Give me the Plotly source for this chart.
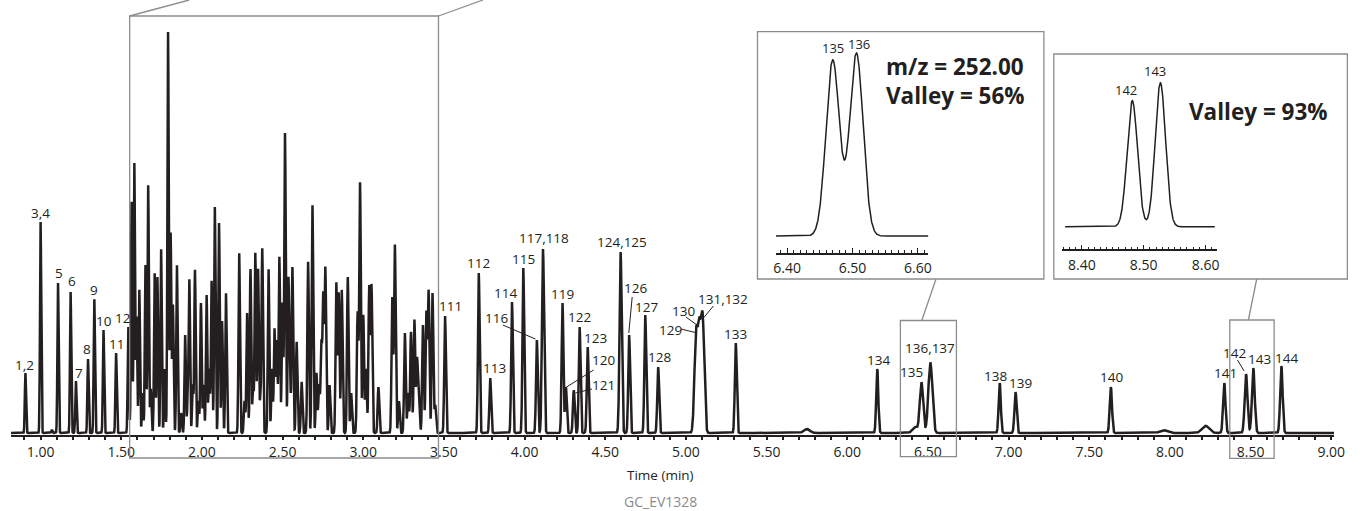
import numpy as np
import plotly.graph_objects as go

W, H = 1365, 511

# ------------------------------------------------------------------ data
# Main chromatogram: retention time (min) and apex height (% of tallest peak)
EARLY_RT = [0.906, 1.000, 1.070, 1.108, 1.186, 1.219, 1.294, 1.333, 1.390, 1.468, 1.544]
EARLY_H = [15.0, 52.75, 0.8, 37.5, 35.25, 13.0, 18.5, 33.5, 25.75, 20.0, 26.5]

DENSE_RT = [1.564, 1.581, 1.595, 1.612, 1.632, 1.650, 1.667, 1.683, 1.707, 1.724,
            1.747, 1.769, 1.790, 1.806, 1.820, 1.845, 1.871, 1.896, 1.912, 1.922,
            1.943, 1.957, 1.978, 1.994, 2.010, 2.029, 2.045, 2.060, 2.080, 2.106,
            2.125, 2.149, 2.231, 2.264, 2.280, 2.301, 2.317, 2.331, 2.348, 2.362,
            2.374, 2.413, 2.434, 2.450, 2.464, 2.480, 2.499, 2.515, 2.536, 2.546,
            2.561, 2.587, 2.618, 2.658, 2.685, 2.710, 2.726, 2.740, 2.752, 2.765,
            2.791, 2.833, 2.848, 2.867, 2.904, 2.925, 2.965, 2.980, 3.000, 3.017,
            3.037, 3.051, 3.094, 3.180, 3.196, 3.221, 3.258, 3.278, 3.296, 3.317,
            3.333, 3.344, 3.370, 3.391, 3.405, 3.429, 3.446]
DENSE_H = [57.8, 67.5, 29.0, 35.8, 10.0, 42.0, 62.0, 11.0, 40.0, 39.0,
           46.0, 16.0, 100.25, 50.0, 32.0, 42.0, 5.0, 24.5, 8.0, 38.0,
           12.0, 40.8, 8.0, 32.5, 12.0, 34.5, 16.0, 38.0, 56.5, 52.5,
           28.0, 35.0, 45.0, 8.0, 30.0, 41.0, 11.0, 45.0, 41.0, 8.0,
           46.0, 41.0, 16.0, 26.0, 23.0, 44.0, 32.5, 75.0, 38.0, 12.0,
           41.5, 22.8, 12.8, 42.8, 57.0, 15.0, 12.0, 22.0, 34.0, 41.0,
           12.0, 37.5, 35.0, 35.8, 39.0, 10.0, 30.0, 62.5, 29.5, 16.0,
           36.5, 36.8, 11.5, 33.8, 47.0, 8.0, 25.0, 10.0, 25.3, 28.3,
           18.0, 10.8, 27.0, 30.0, 35.3, 35.0, 7.0]

LATE_RT = [3.507, 3.716, 3.787, 3.922, 3.992, 4.076, 4.114, 4.235, 4.256, 4.305,
           4.341, 4.391, 4.595, 4.648, 4.748, 4.828, 5.062, 5.083, 5.104, 5.309,
           5.750, 6.186, 6.420, 6.460, 6.515, 6.945, 7.043, 7.634, 7.959, 8.221,
           8.337, 8.472, 8.517, 8.691]
LATE_H = [29.25, 40.0, 13.75, 32.75, 41.25, 23.25, 46.0, 32.5, 11.5, 10.75,
          26.5, 21.5, 45.25, 24.5, 29.5, 16.5, 23.5, 24.0, 27.5, 22.5,
          1.0, 16.0, 1.5, 12.6, 17.6, 12.5, 10.25, 11.5, 0.7, 1.8,
          12.5, 14.75, 16.25, 16.75]
LATE_WIDTH = [1, 1, 1, 1, 1, 1, 1.2, 1, 1, 1,
              1, 1, 1.2, 1, 1, 1, 1.7, 1.7, 1.7, 1,
              3, 1, 2.5, 1.6, 1.9, 1, 1, 1, 3, 3,
              1, 1.15, 1.15, 1]
BASELINE = 0.5

# Inset 1 (m/z 252.00): peaks 135 / 136
INSET1_RT = [6.4697, 6.506]
INSET1_H = [96.3, 100.0]
INSET1_RANGE = [6.3829, 6.6162]
# Inset 2: peaks 142 / 143
INSET2_RT = [8.4816, 8.527]
INSET2_H = [87.5, 100.0]
INSET2_RANGE = [8.373, 8.615]

# peak labels: text, time, height of label centre
LABELS = [
    ("1,2", 0.900, 17.5), ("3,4", 1.002, 55.4), ("5", 1.115, 40.6), ("6", 1.196, 38.6),
    ("7", 1.237, 15.6), ("8", 1.288, 21.4), ("9", 1.333, 36.25), ("10", 1.394, 28.6),
    ("11", 1.468, 22.75), ("12", 1.507, 29.2),
    ("111", 3.540, 32.25), ("112", 3.716, 43.0), ("113", 3.814, 16.75), ("114", 3.883, 35.5),
    ("115", 3.994, 44.0), ("116", 3.828, 29.25), ("117,118", 4.121, 49.25), ("119", 4.233, 35.25),
    ("120", 4.489, 18.75), ("121", 4.489, 12.5), ("122", 4.342, 29.5), ("123", 4.437, 24.25),
    ("124,125", 4.605, 48.3), ("126", 4.689, 36.75), ("127", 4.755, 32.0), ("128", 4.836, 19.5),
    ("129", 4.902, 26.25), ("130", 4.986, 31.1), ("131,132", 5.231, 34.0), ("133", 5.307, 25.25),
    ("134", 6.192, 18.75), ("135", 6.401, 15.8), ("136,137", 6.514, 21.7), ("138", 6.922, 14.75),
    ("139", 7.075, 13.1), ("140", 7.638, 14.4), ("141", 8.344, 15.6), ("142", 8.399, 20.4),
    ("143", 8.554, 18.9), ("144", 8.722, 19.3),
]
LEADERS = [  # (t0, v0, t1, v1)
    (3.865, 27.5, 4.067, 24.0), (4.428, 16.25, 4.260, 12.0), (4.417, 11.5, 4.315, 10.5),
    (4.667, 34.5, 4.646, 25.5), (4.969, 26.5, 5.061, 25.6), (5.000, 29.5, 5.082, 27.1),
    (5.170, 32.25, 5.112, 29.4), (8.419, 18.75, 8.460, 16.0),
]

# ------------------------------------------------------------------ build traces
DARK = "#231f20"
GREY = "#8c8c8c"
FONT = "Open Sans, Noto Sans, sans-serif"


def sigma_main(rt):
    return 0.0032 + 0.0005 * rt


all_rt = EARLY_RT + DENSE_RT + LATE_RT
all_h = EARLY_H + DENSE_H + LATE_H
all_w = [1] * (len(EARLY_RT) + len(DENSE_RT)) + LATE_WIDTH

t_main = np.arange(0.816, 9.0185, 0.0004)
y_main = np.full_like(t_main, BASELINE)
for rt, h, w in zip(all_rt, all_h, all_w):
    s = sigma_main(rt) * w
    y_main += h * np.exp(-0.5 * ((t_main - rt) / s) ** 2)


def inset_trace(rts, hs, rng, s):
    tt = np.linspace(rng[0], rng[1], 1200)
    yy = np.zeros_like(tt)
    for rt, h in zip(rts, hs):
        yy += h * np.exp(-0.5 * ((tt - rt) / s) ** 2)
    return tt, yy


t1, y1 = inset_trace(INSET1_RT, INSET1_H, INSET1_RANGE, 0.0103)
t2, y2 = inset_trace(INSET2_RT, INSET2_H, INSET2_RANGE, 0.0084)

fig = go.Figure()
fig.add_trace(go.Scatter(x=t_main, y=y_main, mode="lines",
                         line=dict(color=DARK, width=2.5), xaxis="x", yaxis="y",
                         hoverinfo="skip", showlegend=False))
fig.add_trace(go.Scatter(x=t1, y=y1, mode="lines", line=dict(color=DARK, width=1.5),
                         xaxis="x2", yaxis="y2", hoverinfo="skip", showlegend=False))
fig.add_trace(go.Scatter(x=t2, y=y2, mode="lines", line=dict(color=DARK, width=1.5),
                         xaxis="x3", yaxis="y3", hoverinfo="skip", showlegend=False))


def px(x):
    return x / W


def py(y):
    return 1 - y / H


# ------------------------------------------------------------------ layout
layout = dict(
    width=W, height=H, margin=dict(l=0, r=0, t=0, b=0, pad=0),
    paper_bgcolor="white", plot_bgcolor="white", showlegend=False,
    font=dict(family=FONT, color=DARK, size=13),
    xaxis=dict(domain=[px(8), px(1345)], range=[0.8160, 9.0184], anchor="y",
               showline=True, linecolor=DARK, linewidth=2, showgrid=False, zeroline=False,
               tick0=1.0, dtick=0.5, tickformat=".2f", ticks="outside", ticklen=3,
               tickwidth=2, tickcolor=DARK, tickfont=dict(size=14, family=FONT, color=DARK),
               minor=dict(dtick=0.1, ticks="outside", ticklen=3, tickwidth=2, tickcolor=DARK)),
    yaxis=dict(domain=[py(435), 1.0], range=[0, 108.75], visible=False),
    xaxis2=dict(domain=[px(781), px(935)], range=INSET1_RANGE, anchor="y2",
                showline=True, linecolor=DARK, linewidth=1.5, showgrid=False, zeroline=False,
                tick0=6.4, dtick=0.1, tickformat=".2f", ticks="inside", ticklen=5,
                tickwidth=1, tickcolor=DARK, ticklabelstandoff=2,
                tickfont=dict(size=14, family=FONT, color=DARK),
                minor=dict(dtick=0.01, ticks="inside", ticklen=3, tickwidth=1, tickcolor=DARK)),
    yaxis2=dict(domain=[py(252.7), py(40)], range=[-9.14, 107.28], visible=False),
    xaxis3=dict(domain=[px(1070), px(1226.7)], range=[8.368, 8.6187], anchor="y3",
                showline=True, linecolor=DARK, linewidth=1.5, showgrid=False, zeroline=False,
                tick0=8.4, dtick=0.1, tickformat=".2f", ticks="inside", ticklen=5,
                tickwidth=1, tickcolor=DARK, ticklabelstandoff=2,
                tickfont=dict(size=14, family=FONT, color=DARK),
                minor=dict(dtick=0.01, ticks="inside", ticklen=3, tickwidth=1, tickcolor=DARK)),
    yaxis3=dict(domain=[py(249.3), py(60)], range=[-15.69, 115.76], visible=False),
)
fig.update_layout(**layout)

annotations = []
for txt, tx, ty in LABELS:
    annotations.append(dict(x=tx, y=ty, xref="x", yref="y", text=txt, showarrow=False,
                            xanchor="center", yanchor="middle",
                            font=dict(size=13.5, family=FONT, color=DARK)))

# inset peak labels
annotations += [
    dict(x=px(838.3), y=py(48.3), text="135"), dict(x=px(865), y=py(44), text="136"),
    dict(x=px(1135), y=py(90), text="142"), dict(x=px(1164.3), y=py(70.7), text="143"),
]
for a in annotations[-4:]:
    a.update(xref="paper", yref="paper", showarrow=False, xanchor="center",
             yanchor="middle", font=dict(size=13, family=FONT, color=DARK))

bold = dict(size=22.5, family=FONT, color=DARK)
annotations += [
    dict(x=px(890), y=py(66), xref="paper", yref="paper", text="<b>m/z = 252.00</b>",
         showarrow=False, xanchor="left", yanchor="middle", font=bold),
    dict(x=px(890), y=py(95), xref="paper", yref="paper", text="<b>Valley = 56%</b>",
         showarrow=False, xanchor="left", yanchor="middle", font=bold),
    dict(x=px(1196.5), y=py(111), xref="paper", yref="paper", text="<b>Valley = 93%</b>",
         showarrow=False, xanchor="left", yanchor="middle", font=bold),
    dict(x=px(664.5), y=py(475), xref="paper", yref="paper", text="Time (min)",
         showarrow=False, xanchor="center", yanchor="middle",
         font=dict(size=13.5, family=FONT, color=DARK)),
    dict(x=px(664), y=py(501.5), xref="paper", yref="paper", text="GC_EV1328",
         showarrow=False, xanchor="center", yanchor="middle",
         font=dict(size=14, family=FONT, color=GREY)),
]
fig.update_layout(annotations=annotations)

shapes = []
for t0, v0, t1_, v1_ in LEADERS:
    shapes.append(dict(type="line", xref="x", yref="y", x0=t0, y0=v0, x1=t1_, y1=v1_,
                       line=dict(color=DARK, width=1)))


def rect(x0, y0, x1, y1):
    return dict(type="rect", xref="paper", yref="paper", x0=px(x0), x1=px(x1),
                y0=py(y1), y1=py(y0), line=dict(color=GREY, width=1.3),
                fillcolor="rgba(0,0,0,0)")


def seg(x0, y0, x1, y1):
    return dict(type="line", xref="paper", yref="paper", x0=px(x0), y0=py(y0),
                x1=px(x1), y1=py(y1), line=dict(color=GREY, width=1.3))


shapes += [
    rect(128, 16, 440, 458), seg(128, 16, 188, 0), seg(440, 16, 485, 0),
    rect(906.7, 320.5, 963.3, 456.7), seg(928.3, 320.5, 942.7, 279),
    rect(1239.5, 320, 1284.3, 458.3), seg(1258.3, 320, 1266.7, 279),
    rect(762.3, 31.7, 1051.7, 279), rect(1061.7, 54, 1358.3, 279),
]
fig.update_layout(shapes=shapes)

# remove the browser's default page margin so the figure sits at the window origin
POST = (
    "document.documentElement.style.margin='0';"
    "document.body.style.margin='0';"
    "document.body.style.overflow='hidden';"
    "document.documentElement.style.overflow='hidden';"
)

fig.write_html("out.html", config={"displayModeBar": False}, post_script=POST)
